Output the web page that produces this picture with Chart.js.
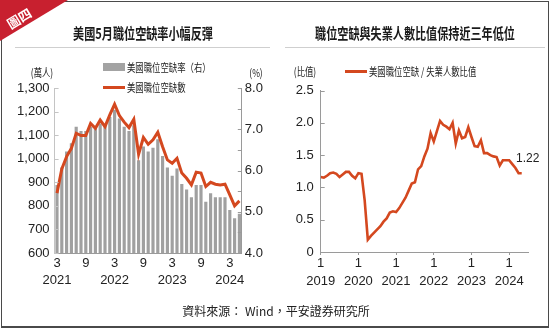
<!DOCTYPE html>
<html>
<head>
<meta charset="utf-8">
<script src="https://cdn.jsdelivr.net/npm/chart.js@4.4.1/dist/chart.umd.min.js"></script>
<style>
  body { margin: 0; background: #fff; }
  #page { position: relative; width: 550px; height: 329px; overflow: hidden; font-family: "Noto Sans CJK TC", sans-serif; color: #222; }
  .frame { position: absolute; left: 1px; top: 1px; width: 548px; height: 327px; box-sizing: border-box; border: 1px solid #4a4a4a; border-bottom-width: 2px; }
  .corner { position: absolute; left: 0; top: 0; width: 68px; height: 41px; background: #c8202f; clip-path: polygon(0 0, 100% 0, 0 100%); }
  .corner span { position: absolute; left: 19px; top: 18px; color: #fff; font-weight: bold; font-size: 13px; line-height: 1; white-space: nowrap; transform: translate(-50%, -50%) rotate(-31deg); }
  .t { position: absolute; white-space: nowrap; line-height: 1; }
  .mid { transform: translate(-50%, -50%) scaleX(var(--sx, 1)); }
  .lft { transform-origin: 0 50%; transform: translate(0, -50%) scaleX(var(--sx, 1)); }
  .title { font-size: 15px; font-weight: bold; color: #1a1a1a; --sx: 0.74; }
  .small { font-size: 11px; --sx: 0.76; }
  .rule { position: absolute; height: 1px; background: #cfcfcf; }
  .swatch { position: absolute; }
  canvas { position: absolute; top: 0; }
</style>
</head>
<body>
<div id="page">
  <canvas id="openingsChart" width="275" height="300" style="left:0"></canvas>
  <canvas id="ratioChart" width="275" height="300" style="left:275px"></canvas>

  <div class="frame"></div>
  <div class="corner"><span>圖四</span></div>

  <div class="t mid title" style="left:143px; top:32px">美國5月職位空缺率小幅反彈</div>
  <div class="t mid title" style="left:415px; top:32px">職位空缺與失業人數比值保持近三年低位</div>
  <div class="rule" style="left:15px; top:47px; width:255px"></div>
  <div class="rule" style="left:285px; top:47px; width:260px"></div>

  <!-- left legend and axis units -->
  <div class="swatch" style="left:103px; top:63px; width:22px; height:8px; background:#a3a3a3"></div>
  <div class="t lft small" style="left:127px; top:67px">美國職位空缺率（右）</div>
  <div class="swatch" style="left:103px; top:86px; width:22px; height:3px; background:#d4481f"></div>
  <div class="t lft small" style="left:127px; top:87px">美國職位空缺數</div>
  <div class="t mid small" style="left:42px; top:72px">(萬人)</div>
  <div class="t mid small" style="left:256px; top:72px">(%)</div>

  <!-- right legend and axis unit -->
  <div class="swatch" style="left:345px; top:70px; width:22px; height:3px; background:#d4481f"></div>
  <div class="t lft small" style="left:369px; top:71px">美國職位空缺 / 失業人數比值</div>
  <div class="t mid small" style="left:305px; top:71px">(比值)</div>

  <div class="t mid" style="left:276px; top:311px; font-size:12px">資料來源： Wind，平安證券研究所</div>
</div>

<script>
// Job openings, monthly (萬人) and openings rate (%)
const openingsMonths = [
  '2021-03', '2021-04', '2021-05', '2021-06', '2021-07', '2021-08', '2021-09', '2021-10', '2021-11', '2021-12',
  '2022-01', '2022-02', '2022-03', '2022-04', '2022-05', '2022-06', '2022-07', '2022-08', '2022-09', '2022-10',
  '2022-11', '2022-12', '2023-01', '2023-02', '2023-03', '2023-04', '2023-05', '2023-06', '2023-07', '2023-08',
  '2023-09', '2023-10', '2023-11', '2023-12', '2024-01', '2024-02', '2024-03', '2024-04', '2024-05'
];
const openings = [
  854, 957, 1009, 1044, 1108, 1098, 1098, 1150, 1129, 1164,
  1136, 1186, 1231, 1183, 1155, 1132, 1167, 1019, 1090, 1061,
  1080, 1112, 1051, 995, 981, 1002, 939, 917, 889, 943,
  939, 882, 900, 892, 889, 892, 847, 800, 821
];
const openingRate = [
  5.65, 6.07, 6.46, 6.66, 7.06, 6.96, 6.96, 7.06, 7.06, 7.14,
  7.10, 7.30, 7.47, 7.26, 7.06, 6.96, 7.10, 6.25, 6.58, 6.46,
  6.55, 6.76, 6.35, 6.07, 5.87, 6.05, 5.67, 5.54, 5.35, 5.65,
  5.65, 5.24, 5.45, 5.35, 5.35, 5.35, 5.04, 4.84, 4.95
];

// Openings / unemployed ratio, monthly from Jan 2019
const ratioYears = ['2019', '2020', '2021', '2022', '2023', '2024'];
const ratio = [
  1.16, 1.15, 1.18, 1.22, 1.23, 1.21, 1.16, 1.20, 1.24, 1.24, 1.18, 1.14,
  1.22, 1.21, 0.80, 0.19, 0.25, 0.30, 0.35, 0.40, 0.47, 0.52, 0.61, 0.63,
  0.62, 0.68, 0.76, 0.84, 0.95, 1.06, 1.08, 1.28, 1.33, 1.48, 1.60, 1.84,
  1.71, 1.87, 2.03, 1.97, 1.94, 1.90, 2.00, 1.68, 1.88, 1.76, 1.78, 1.93,
  1.78, 1.64, 1.63, 1.73, 1.53, 1.53, 1.50, 1.48, 1.47, 1.34, 1.42, 1.42,
  1.42, 1.36, 1.30, 1.22, 1.22
];

const LINE = '#d4481f';
const BAR = '#a0a0a0';

Chart.defaults.font.family = "'Liberation Sans Narrow', 'Liberation Sans', Arial, sans-serif";
Chart.defaults.font.size = 13;
Chart.defaults.color = '#222';

// Short tick marks pointing into the plot from each y axis
const inwardTicks = {
  id: 'inwardTicks',
  afterDraw(chart) {
    const ctx = chart.ctx;
    ctx.save();
    ctx.lineWidth = 1;
    Object.values(chart.scales).forEach(s => {
      if (s.axis !== 'y') return;
      const left = s.position === 'left';
      const x0 = left ? s.right : s.left;
      ctx.strokeStyle = s.options.border.color;
      s.ticks.forEach(t => {
        const y = Math.round(s.getPixelForValue(t.value)) + 0.5;
        ctx.beginPath();
        ctx.moveTo(x0, y);
        ctx.lineTo(x0 + (left ? 4 : -4), y);
        ctx.stroke();
      });
    });
    ctx.restore();
  }
};

// Value label next to the last point of the ratio line
const lastValueLabel = {
  id: 'lastValueLabel',
  afterDatasetsDraw(chart) {
    const i = ratio.length - 1;
    const x = chart.scales.x.getPixelForValue(i);
    const y = chart.scales.y.getPixelForValue(ratio[i]);
    const ctx = chart.ctx;
    ctx.save();
    ctx.font = "12px 'Liberation Sans Narrow', 'Liberation Sans', Arial, sans-serif";
    ctx.fillStyle = '#222';
    ctx.textAlign = 'center';
    ctx.textBaseline = 'middle';
    ctx.fillText(ratio[i].toFixed(2), x + 6, y - 15);
    ctx.restore();
  }
};

new Chart(document.getElementById('openingsChart'), {
  type: 'bar',
  data: {
    labels: openingsMonths,
    datasets: [
      {
        type: 'line',
        label: '美國職位空缺數',
        data: openings,
        yAxisID: 'y',
        borderColor: LINE,
        borderWidth: 3,
        pointRadius: 0,
        tension: 0,
        order: 0
      },
      {
        type: 'bar',
        label: '美國職位空缺率（右）',
        data: openingRate,
        yAxisID: 'y1',
        backgroundColor: BAR,
        barPercentage: 0.66,
        categoryPercentage: 1,
        order: 1
      }
    ]
  },
  options: {
    responsive: false,
    animation: false,
    layout: { padding: { top: 88, left: 0, right: 0, bottom: 0 } },
    plugins: { legend: { display: false }, tooltip: { enabled: false } },
    scales: {
      x: {
        grid: { display: false, drawTicks: false },
        border: { color: '#9a9a9a' },
        ticks: {
          autoSkip: false,
          maxRotation: 0,
          padding: 1.5,
          font: { lineHeight: 1.35 },
          callback(value, index) {
            const [yr, mo] = openingsMonths[index].split('-');
            const m = Number(mo);
            if (m === 3) return [String(m), yr];
            if (m === 9) return String(m);
            return '';
          }
        },
        afterFit(s) { s.height = 47; }
      },
      y: {
        position: 'left',
        min: 600,
        max: 1300,
        grid: { display: false, drawTicks: false },
        border: { color: '#c4c4c4' },
        ticks: { stepSize: 100, padding: 5, callback: v => v.toLocaleString('en-US') },
        afterFit(s) { s.width = 54.6; }
      },
      y1: {
        position: 'right',
        min: 4,
        max: 8,
        grid: { display: false, drawTicks: false },
        border: { color: '#9a9a9a' },
        ticks: { stepSize: 0.5, padding: 3, callback: v => Number.isInteger(v) ? v.toFixed(1) : '' },
        afterFit(s) { s.width = 33.2; }
      }
    }
  },
  plugins: [inwardTicks]
});

new Chart(document.getElementById('ratioChart'), {
  type: 'line',
  data: {
    datasets: [{
      label: '美國職位空缺 / 失業人數比值',
      data: ratio.map((v, i) => ({ x: i, y: v })),
      borderColor: LINE,
      borderWidth: 2.6,
      pointRadius: 0,
      tension: 0
    }]
  },
  options: {
    responsive: false,
    animation: false,
    layout: { padding: { top: 90.5, left: 0, right: 22, bottom: 0 } },
    plugins: { legend: { display: false }, tooltip: { enabled: false } },
    scales: {
      x: {
        type: 'linear',
        min: 0,
        max: 66,
        grid: { drawOnChartArea: false, drawTicks: true, tickLength: 3, color: '#9a9a9a' },
        border: { color: '#9a9a9a' },
        ticks: {
          stepSize: 12,
          includeBounds: false,
          autoSkip: false,
          maxRotation: 0,
          padding: 0,
          font: { lineHeight: 1.35 },
          callback: v => ['1', ratioYears[v / 12]]
        },
        afterFit(s) { s.height = 48; }
      },
      y: {
        min: 0,
        max: 2.5,
        grid: { display: false, drawTicks: false },
        border: { color: '#9a9a9a' },
        ticks: { stepSize: 0.5, padding: 7, callback: v => v === 0 ? '0' : v.toFixed(1) },
        afterFit(s) { s.width = 45.7; }
      }
    }
  },
  plugins: [inwardTicks, lastValueLabel]
});
</script>
</body>
</html>
